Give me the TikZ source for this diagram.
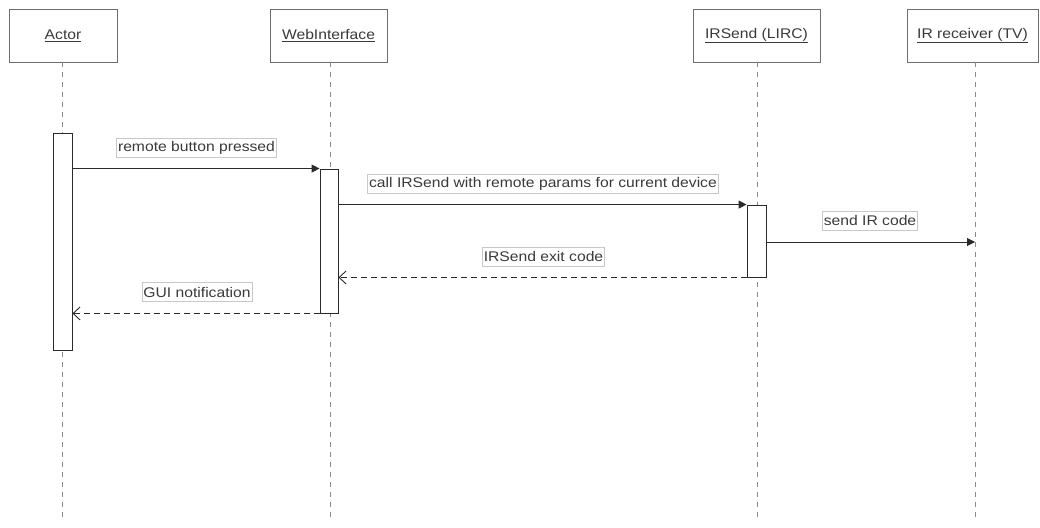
\documentclass[tikz,border=0pt]{standalone}
\usepackage{fontspec}
\setmainfont{Liberation Sans}[FakeStretch=1.12]
\usetikzlibrary{arrows.meta}
\definecolor{ink}{HTML}{2A2A2A}
\definecolor{boxline}{HTML}{6E6E6E}
\definecolor{lifeln}{HTML}{8A8A8A}
\definecolor{lblline}{HTML}{C8C8C8}
\definecolor{txt}{HTML}{3A3A3A}
\begin{document}
\begin{tikzpicture}[x=1pt,y=-1pt,
  header/.style={draw=boxline,line width=0.9pt,fill=white,minimum height=53pt,inner sep=0pt,
    font=\fontsize{14}{16}\selectfont,text=txt},
  lifeline/.style={draw=lifeln,line width=0.9pt,dash pattern=on 5pt off 5pt},
  actbox/.style={draw=ink,line width=0.9pt,fill=white,inner sep=0pt},
  msglbl/.style={draw=lblline,line width=0.6pt,fill=white,inner xsep=1.5pt,inner ysep=0pt,
    minimum height=19pt,font=\fontsize{14}{16}\selectfont,text=txt},
  callmsg/.style={draw=ink,line width=0.9pt,-{Triangle[length=8pt,width=8pt]}},
  retmsg/.style={draw=ink,line width=0.9pt,dash pattern=on 6pt off 4pt,-{Straight Barb[length=7pt,width=13pt]}}]
\useasboundingbox (0,0) rectangle (1040,527);
% headers
\node[header,minimum width=108pt] (hA) at (63,35.5) {\underline{Actor}};
\node[header,minimum width=117pt] (hW) at (328.5,35.5) {\underline{WebInterface}};
\node[header,minimum width=127pt] (hI) at (756.5,35.5) {\underline{IRSend (LIRC)}};
\node[header,minimum width=131pt] (hR) at (972.5,35.5) {\underline{IR receiver (TV)}};
% lifeline ends
\coordinate (eA) at (62,522);
\coordinate (eW) at (330,522);
\coordinate (eI) at (757,522);
\coordinate (eR) at (975,522);
\draw[lifeline] (hA.south -| eA) -- (eA);
\draw[lifeline] (hW.south -| eW) -- (eW);
\draw[lifeline] (hI.south -| eI) -- (eI);
\draw[lifeline] (hR.south -| eR) -- (eR);
% activations
\node[actbox,minimum width=19pt,minimum height=217pt] (aA) at (62.5,241.5) {};
\node[actbox,minimum width=18pt,minimum height=144pt] (aW) at (329,241) {};
\node[actbox,minimum width=19pt,minimum height=72pt] (aI) at (756.5,241) {};
\coordinate (tR) at (975,242);
% messages
\draw[callmsg] (aA.east |- aW.north) -- (aW.north west);
\draw[callmsg] (aW.east |- aI.north) -- (aI.north west);
\draw[callmsg] (aI.east |- tR) -- (tR);
\draw[retmsg] (aI.south west) -- (aW.east |- aI.south);
\draw[retmsg] (aW.south west) -- (aA.east |- aW.south);
% labels
\node[msglbl] (l1) at (196.5,148) {remote button pressed};
\node[msglbl] (l2) at (543,184) {call IRSend with remote params for current device};
\node[msglbl] (l3) at (870,220.5) {send IR code};
\node[msglbl] (l4) at (543.5,256.5) {IRSend exit code};
\node[msglbl] (l5) at (197,292) {GUI notification};
\end{tikzpicture}
\end{document}
